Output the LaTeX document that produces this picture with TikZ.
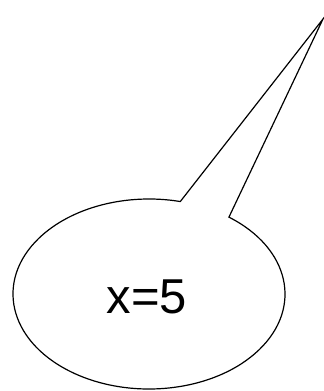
\documentclass[tikz,border=0pt]{standalone}
\usepackage{fontspec}
\setmainfont{Liberation Sans}
\begin{document}
\begin{tikzpicture}[x=1pt, y=1pt,
  bubble/.style={draw, line width=1.2pt, fill=white},
  saying/.style={font=\fontsize{49}{58}\selectfont, inner sep=0pt}
]
  \useasboundingbox (0,0) rectangle (324,391);
  \coordinate (mid) at (149,97);
  \coordinate (tip) at (323,372);
  \draw[bubble] ([shift={(54:136 and 95)}]mid)
    arc[start angle=54, end angle=-283.3, x radius=136, y radius=95]
    -- (tip) -- cycle;
  \node[saying] (val) at (147,94) {x=5};
\end{tikzpicture}
\end{document}
